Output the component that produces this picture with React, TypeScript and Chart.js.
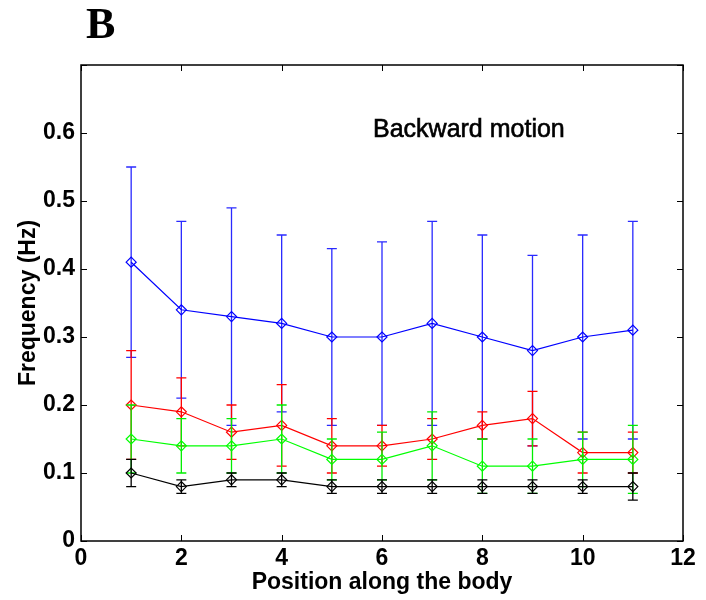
import React, { useEffect, useRef } from 'react';
import { Chart, registerables } from 'chart.js';

Chart.register(...registerables);

const positions = [1, 2, 3, 4, 5, 6, 7, 8, 9, 10, 11];

const blueMean = [0.41, 0.34, 0.33, 0.32, 0.30, 0.30, 0.32, 0.30, 0.28, 0.30, 0.31];
const blueUpper = [0.55, 0.47, 0.49, 0.45, 0.43, 0.44, 0.47, 0.45, 0.42, 0.45, 0.47];
const blueLower = [0.27, 0.21, 0.17, 0.19, 0.17, 0.17, 0.17, 0.15, 0.14, 0.15, 0.15];

const redMean = [0.20, 0.19, 0.16, 0.17, 0.14, 0.14, 0.15, 0.17, 0.18, 0.13, 0.13];
const redUpper = [0.28, 0.24, 0.20, 0.23, 0.18, 0.17, 0.18, 0.19, 0.22, 0.16, 0.16];
const redLower = [0.12, 0.14, 0.12, 0.11, 0.10, 0.11, 0.12, 0.15, 0.14, 0.10, 0.10];

const greenMean = [0.15, 0.14, 0.14, 0.15, 0.12, 0.12, 0.14, 0.11, 0.11, 0.12, 0.12];
const greenUpper = [0.20, 0.18, 0.18, 0.20, 0.15, 0.16, 0.19, 0.15, 0.15, 0.16, 0.17];
const greenLower = [0.10, 0.10, 0.10, 0.10, 0.09, 0.09, 0.09, 0.07, 0.07, 0.08, 0.07];

const blackMean = [0.10, 0.08, 0.09, 0.09, 0.08, 0.08, 0.08, 0.08, 0.08, 0.08, 0.08];
const blackUpper = [0.12, 0.09, 0.10, 0.10, 0.09, 0.09, 0.09, 0.09, 0.09, 0.09, 0.10];
const blackLower = [0.08, 0.07, 0.08, 0.08, 0.07, 0.07, 0.07, 0.07, 0.07, 0.07, 0.06];

const xTicks = [0, 2, 4, 6, 8, 10, 12];
const yTicks = [0, 0.1, 0.2, 0.3, 0.4, 0.5, 0.6, 0.7];

const panelLabel = 'B';
const annotation = 'Backward motion';
const xTitle = 'Position along the body';
const yTitle = 'Frequency (Hz)';

const SANS = '"Liberation Sans", Arial, sans-serif';

const errorBarPlugin = {
  id: 'errorBars',
  beforeDatasetDraw(chart: any, args: any) {
    const ds: any = chart.data.datasets[args.index];
    if (!ds.errUpper) return;
    const ctx = chart.ctx;
    const xs = chart.scales.x;
    const ys = chart.scales.y;
    ctx.save();
    ctx.strokeStyle = ds.errColor || ds.borderColor;
    ctx.lineWidth = 1.3;
    const cap = 5;
    ds.data.forEach((p: any, i: number) => {
      const x = xs.getPixelForValue(p.x);
      const yu = ys.getPixelForValue(ds.errUpper[i]);
      const yl = ys.getPixelForValue(ds.errLower[i]);
      ctx.beginPath();
      ctx.moveTo(x, yu);
      ctx.lineTo(x, yl);
      ctx.moveTo(x - cap, yu);
      ctx.lineTo(x + cap, yu);
      ctx.moveTo(x - cap, yl);
      ctx.lineTo(x + cap, yl);
      ctx.stroke();
    });
    ctx.restore();
  },
};

const framePlugin = {
  id: 'frame',
  afterDraw(chart: any) {
    const ctx = chart.ctx;
    const { left, right, top, bottom } = chart.chartArea;
    const xs = chart.scales.x;
    const ys = chart.scales.y;
    ctx.save();
    ctx.strokeStyle = '#000';
    ctx.lineWidth = 1.5;
    ctx.strokeRect(left, top, right - left, bottom - top);
    ctx.lineWidth = 1;
    const tl = 6;
    ctx.beginPath();
    xTicks.forEach((v) => {
      const x = Math.round(xs.getPixelForValue(v)) + 0.5;
      ctx.moveTo(x, bottom);
      ctx.lineTo(x, bottom - tl);
      ctx.moveTo(x, top);
      ctx.lineTo(x, top + tl);
    });
    yTicks.forEach((v) => {
      const y = Math.round(ys.getPixelForValue(v)) + 0.5;
      ctx.moveTo(left, y);
      ctx.lineTo(left + tl, y);
      ctx.moveTo(right, y);
      ctx.lineTo(right - tl, y);
    });
    ctx.stroke();

    ctx.fillStyle = '#000';
    ctx.textBaseline = 'alphabetic';
    ctx.textAlign = 'left';
    ctx.font = 'bold 44px "Liberation Serif", "Times New Roman", serif';
    ctx.fillText(panelLabel, 86, 38);
    ctx.font = '25px ' + SANS;
    ctx.fillText(annotation, 373, 137);
    ctx.lineWidth = 0.6;
    ctx.strokeStyle = '#000';
    ctx.strokeText(annotation, 373, 137);
    ctx.restore();
  },
};

function mk(label: string, color: string, errColor: string, mean: number[], up: number[], lo: number[], order: number) {
  return {
    label,
    data: positions.map((x, i) => ({ x, y: mean[i] })),
    errUpper: up,
    errLower: lo,
    errColor,
    borderColor: color,
    borderWidth: 1.2,
    pointStyle: 'rectRot',
    pointRadius: 5,
    pointBorderColor: color,
    pointBackgroundColor: 'rgba(0,0,0,0)',
    pointBorderWidth: 1.2,
    fill: false,
    tension: 0,
    order,
  } as any;
}

export default function App() {
  const ref = useRef<HTMLCanvasElement | null>(null);
  useEffect(() => {
    if (!ref.current) return;
    const tickFont = { family: SANS, size: 23, weight: 'bold' as const, lineHeight: 1.2 };
    const chart = new Chart(ref.current, {
      type: 'line',
      data: {
        datasets: [
          mk('black', '#000000', '#000000', blackMean, blackUpper, blackLower, 0),
          mk('green', '#00ff00', '#00ee00', greenMean, greenUpper, greenLower, 1),
          mk('red', '#ff0000', '#ff0000', redMean, redUpper, redLower, 2),
          mk('blue', '#0000ff', '#2a2aff', blueMean, blueUpper, blueLower, 3),
        ],
      },
      options: {
        responsive: false,
        animation: false,
        devicePixelRatio: 1,
        layout: { padding: { top: 65, right: 23, left: 0, bottom: 0 } },
        plugins: { legend: { display: false }, tooltip: { enabled: false }, title: { display: false } },
        scales: {
          x: {
            type: 'linear',
            min: 0,
            max: 12,
            grid: { display: false, drawTicks: false },
            border: { display: false },
            ticks: { stepSize: 2, color: '#000', font: tickFont, padding: 4, maxRotation: 0 },
            title: { display: true, text: xTitle, color: '#000', font: tickFont, padding: { top: 0, bottom: 4 } },
            afterFit: (s: any) => { s.height = 59; },
          },
          y: {
            type: 'linear',
            min: 0,
            max: 0.7,
            grid: { display: false, drawTicks: false },
            border: { display: false },
            ticks: {
              stepSize: 0.1,
              color: '#000',
              font: tickFont,
              padding: 6,
              callback: (v: any) => (Math.abs(v - 0.7) < 1e-9 ? '' : String(Math.round(v * 10) / 10)),
            },
            title: { display: true, text: yTitle, color: '#000', font: tickFont, padding: { top: 15, bottom: 0 } },
            afterFit: (s: any) => { s.width = 81; },
          },
        },
      } as any,
      plugins: [errorBarPlugin, framePlugin],
    });
    return () => chart.destroy();
  }, []);
  return (
    <div style={{ position: 'absolute', left: 0, top: 0, width: 706, height: 600, background: '#fff' }}>
      <canvas ref={ref} width={706} height={600} style={{ width: 706, height: 600, display: 'block' }} />
    </div>
  );
}
